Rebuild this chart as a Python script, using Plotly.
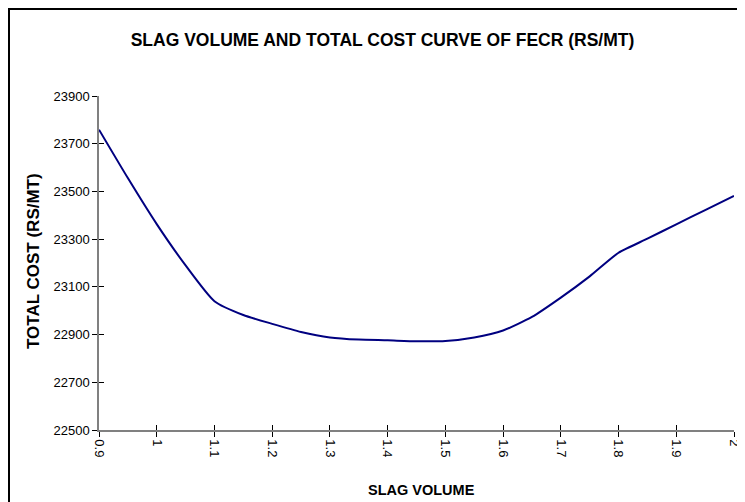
import plotly.graph_objects as go

slag_volume = [0.9, 0.95, 1.0, 1.05, 1.1, 1.15, 1.2, 1.25, 1.3, 1.35, 1.4, 1.45,
               1.5, 1.55, 1.6, 1.65, 1.7, 1.75, 1.8, 1.85, 1.9, 1.95, 2.0]
total_cost = [23759, 23556, 23363, 23190, 23040, 22982, 22945, 22911, 22888, 22879,
              22876, 22872, 22873, 22888, 22917, 22974, 23055, 23144, 23243, 23302,
              23362, 23422, 23481]

x_ticks = [0.9, 1.0, 1.1, 1.2, 1.3, 1.4, 1.5, 1.6, 1.7, 1.8, 1.9, 2.0]
x_tick_labels = ["0.9", "1", "1.1", "1.2", "1.3", "1.4", "1.5", "1.6", "1.7", "1.8", "1.9", "2"]
y_ticks = [22500, 22700, 22900, 23100, 23300, 23500, 23700, 23900]
y_tick_labels = [str(v) for v in y_ticks]

FONT = "Liberation Sans, Arial, sans-serif"
W, H = 737, 494
ML, MR, MT, MB = 91, 11, 88, 72
PW, PH = W - ML - MR, H - MT - MB

def px(x):
    return (x - ML) / PW

def py(y):
    return (MT + PH - y) / PH

fig = go.Figure()
fig.add_trace(go.Scatter(x=slag_volume, y=total_cost, mode="lines",
                         line=dict(color="#000080", width=2, shape="spline", smoothing=0.6),
                         showlegend=False, hoverinfo="x+y"))
fig.add_trace(go.Scatter(x=[slag_volume[0]], y=[total_cost[0]], xaxis="x2", yaxis="y2",
                         mode="markers", marker=dict(opacity=0), showlegend=False, hoverinfo="skip"))

axis_common = dict(showgrid=False, zeroline=False, showline=True, linecolor="#808080", linewidth=1.5,
                   tickcolor="black", ticklen=5, tickwidth=1, tickfont=dict(size=13, family=FONT))

fig.update_layout(
    width=W, height=H,
    margin=dict(l=ML, r=MR, t=MT, b=MB, autoexpand=False),
    paper_bgcolor="white", plot_bgcolor="white",
    font=dict(family=FONT, color="black", size=13),
    title=dict(text="<b>SLAG VOLUME AND TOTAL COST CURVE OF FECR (RS/MT)</b>",
               x=374.5 / W, xref="container", xanchor="center", y=1 - 32 / H, yref="container",
               yanchor="middle", font=dict(family=FONT, size=17.5, color="black")),
    xaxis=dict(range=[0.9, 2.0], tickmode="array", tickvals=x_ticks, ticktext=x_tick_labels,
               tickangle=90, ticks="outside", **axis_common),
    yaxis=dict(range=[22500, 23900], tickmode="array", tickvals=y_ticks, ticktext=y_tick_labels,
               ticks="outside", **axis_common),
    xaxis2=dict(range=[0.9, 2.0], overlaying="x", tickmode="array", tickvals=x_ticks,
                showticklabels=False, ticks="inside", showgrid=False, zeroline=False, showline=False,
                tickcolor="black", ticklen=5, side="bottom"),
    yaxis2=dict(range=[22500, 23900], overlaying="y", tickmode="array", tickvals=y_ticks,
                showticklabels=False, ticks="inside", showgrid=False, zeroline=False, showline=False,
                tickcolor="black", ticklen=5, side="left"),
    annotations=[
        dict(text="<b>SLAG VOLUME</b>", xref="paper", yref="paper", x=px(413.5), y=py(482),
             xanchor="center", yanchor="middle", showarrow=False, font=dict(size=14.5, family=FONT)),
        dict(text="<b>TOTAL COST (RS/MT)</b>", xref="paper", yref="paper", x=px(25.5), y=py(253.5),
             xanchor="center", yanchor="middle", textangle=-90, showarrow=False,
             font=dict(size=17, family=FONT)),
    ],
    shapes=[dict(type="rect", xref="paper", yref="paper",
                 x0=px(1), x1=px(736), y0=py(510), y1=py(1),
                 line=dict(color="black", width=2), fillcolor="rgba(0,0,0,0)", layer="below")],
)

fig.write_html("out.html")
